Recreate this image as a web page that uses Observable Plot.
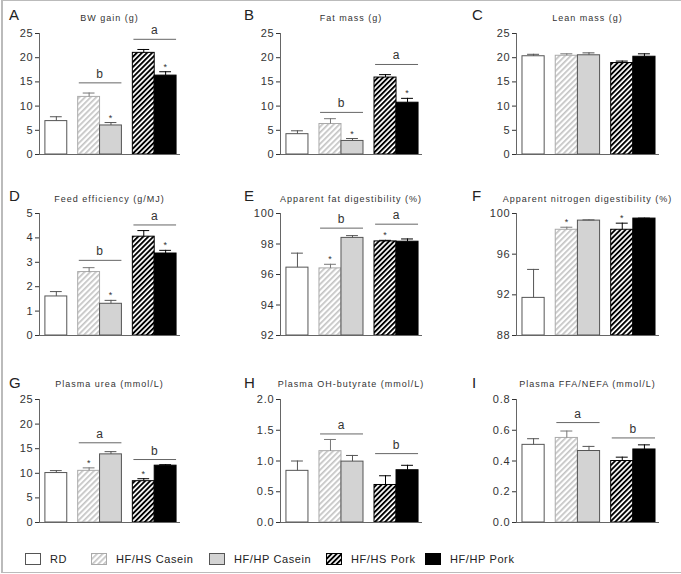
<!DOCTYPE html>
<html><head><meta charset="utf-8">
<script src="https://cdn.jsdelivr.net/npm/d3@7"></script>
<script src="https://cdn.jsdelivr.net/npm/@observablehq/plot@0.6"></script>
<style>
html,body{margin:0;padding:0;background:#fff;}
#fig{position:relative;width:681px;height:574px;font-family:"Liberation Sans",Arial,sans-serif;overflow:hidden;background:#fff;}
#frame{position:absolute;left:1px;top:0;width:678px;height:571px;border:1px solid #bbb;border-left:2px solid #bbb;pointer-events:none;}
.panel{position:absolute;}
.letter{position:absolute;font-size:15px;line-height:15px;color:#222;}
.title{position:absolute;font-size:9px;line-height:10px;letter-spacing:1px;color:#333;transform:translateX(-50%);white-space:nowrap;}
.item{position:absolute;top:553px;display:flex;align-items:center;font-size:11px;letter-spacing:0.6px;color:#222;white-space:nowrap;}
.item svg{margin-right:9px;}
</style></head>
<body>
<svg width="0" height="0" style="position:absolute">
  <defs>
    <pattern id="hatchLight" patternUnits="userSpaceOnUse" width="4" height="4" patternTransform="rotate(45)">
      <rect width="4" height="4" fill="#fff"/><rect width="1.7" height="4" fill="#c4c4c4"/>
    </pattern>
    <pattern id="hatchDark" patternUnits="userSpaceOnUse" width="3.6" height="3.6" patternTransform="rotate(45)">
      <rect width="3.6" height="3.6" fill="#fff"/><rect width="1.9" height="3.6" fill="#000"/>
    </pattern>
  </defs>
</svg>
<div id="fig"><div id="frame"></div></div>
<script>
// ---- data ----
const categories = ["RD", "HF/HS Casein", "HF/HP Casein", "HF/HS Pork", "HF/HP Pork"];
const categoryGroup = [0, 1, 1, 2, 2];
const panelLetters = ["A", "B", "C", "D", "E", "F", "G", "H", "I"];
const panelTitles = ["BW gain (g)", "Fat mass (g)", "Lean mass (g)", "Feed efficiency (g/MJ)",
  "Apparent fat digestibility (%)", "Apparent nitrogen digestibility (%)",
  "Plasma urea (mmol/L)", "Plasma OH-butyrate (mmol/L)", "Plasma FFA/NEFA (mmol/L)"];
const yTicks = [
  [0, 5, 10, 15, 20, 25], [0, 5, 10, 15, 20, 25], [0, 5, 10, 15, 20, 25],
  [0, 1, 2, 3, 4, 5], [92, 94, 96, 98, 100], [88, 92, 96, 100],
  [0, 5, 10, 15, 20, 25], [0, 0.5, 1, 1.5, 2], [0, 0.2, 0.4, 0.6, 0.8]];
const tickDecimals = [0, 0, 0, 0, 0, 0, 0, 1, 1];
const means = [
  [6.9, 11.9, 6.0, 21.0, 16.3],
  [4.2, 6.3, 2.8, 15.9, 10.7],
  [20.3, 20.4, 20.5, 18.9, 20.2],
  [1.6, 2.6, 1.3, 4.05, 3.36],
  [96.45, 96.4, 98.4, 98.17, 98.15],
  [91.7, 98.4, 99.3, 98.4, 99.5],
  [10.05, 10.5, 13.85, 8.4, 11.55],
  [0.84, 1.16, 0.99, 0.61, 0.85],
  [0.505, 0.55, 0.465, 0.40, 0.475]];
const sem = [
  [0.9, 0.8, 0.6, 0.7, 0.8],
  [0.7, 1.1, 0.5, 0.6, 0.9],
  [0.4, 0.4, 0.5, 0.4, 0.6],
  [0.2, 0.18, 0.14, 0.25, 0.13],
  [0.95, 0.27, 0.15, 0.07, 0.18],
  [2.8, 0.25, 0.07, 0.65, 0.04],
  [0.5, 0.6, 0.55, 0.5, 0.2],
  [0.16, 0.19, 0.1, 0.15, 0.08],
  [0.04, 0.045, 0.03, 0.025, 0.03]];
const starred = [[2, 4], [2, 4], [], [2, 4], [1, 3], [1, 3], [1, 3], [], []];
const sigLetters = [["b", "a"], ["b", "a"], [], ["b", "a"], ["b", "a"], [], ["a", "b"], ["a", "b"], ["a", "b"]];
const sigLevels = [[14.8, 23.8], [8.7, 18.6], [], [3.08, 4.53], [99.04, 99.3], [], [16.2, 12.8], [1.44, 1.12], [0.65, 0.55]];

// ---- styles / layout ----
const fills = ["#fff", "url(#hatchLight)", "#d3d3d3", "url(#hatchDark)", "#000"];
const strokes = ["#555", "#aaa", "#555", "#000", "#000"];
const errStrokes = ["#555", "#777", "#555", "#000", "#000"];
const colLeft = [0, 225, 450], colAxisX = [39, 280, 516], colAxisEnd = [180, 422, 659];
const rowTop = [0, 180, 360], rowTickTop = [33, 213, 399], rowBase = [154, 335, 522];
const letterX = [9, 244, 472], letterTop = [7, 188, 375], titleTop = [13, 194, 379];
const legendX = [25, 91, 209, 326, 425];
const PW = 225, PH = 180;
const xDomain = [-0.77, 5.68];

const fig = document.getElementById("fig");
const center = i => i + 0.5 * categoryGroup[i];

panelLetters.forEach((L, p) => {
  const r = Math.floor(p / 3), c = p % 3;
  const ticks = yTicks[p];
  const y0 = ticks[0], y1 = ticks[ticks.length - 1];
  const rows = categories.map((cat, i) => ({
    cat, i, c: center(i), m: means[p][i], e: means[p][i] + sem[p][i],
    fill: fills[i], stroke: strokes[i], es: errStrokes[i]
  }));
  const stars = rows.filter(d => starred[p].includes(d.i));
  const sig = sigLetters[p].map((t, g) => {
    const members = rows.filter(d => categoryGroup[d.i] === g + 1);
    return {t, y: sigLevels[p][g], xa: members[0].c - 0.45, xb: members[members.length - 1].c + 0.5,
      xm: (members[0].c + members[members.length - 1].c) / 2};
  });
  const plot = Plot.plot({
    width: PW, height: PH,
    marginLeft: colAxisX[c] - colLeft[c],
    marginRight: colLeft[c] + PW - colAxisEnd[c],
    marginTop: rowTickTop[r] - rowTop[r],
    marginBottom: rowTop[r] + PH - rowBase[r],
    x: {domain: xDomain, axis: null},
    y: {domain: [y0, y1], ticks, tickSize: 4, tickPadding: 2, label: null,
        tickFormat: d => d.toFixed(tickDecimals[p])},
    color: {type: "identity"},
    style: {fontFamily: "Liberation Sans, Arial, sans-serif", fontSize: "11px", letterSpacing: "0.8px", color: "#333", background: "transparent", overflow: "visible"},
    marks: [
      Plot.rect(rows, {x1: d => d.c - 0.5, x2: d => d.c + 0.5, y1: y0, y2: "m", fill: "fill", stroke: "stroke", strokeWidth: 1}),
      Plot.ruleX(rows, {x: "c", y1: "m", y2: "e", stroke: "es", strokeWidth: 1}),
      Plot.ruleY(rows, {y: "e", x1: d => d.c - 0.27, x2: d => d.c + 0.27, stroke: "es", strokeWidth: 1}),
      Plot.ruleX([xDomain[0]], {y1: y0, y2: y1, stroke: "#666"}),
      Plot.ruleY([y0], {x1: xDomain[0], x2: xDomain[1], stroke: "#666"}),
      Plot.ruleY(sig, {y: "y", x1: "xa", x2: "xb", stroke: "#666", strokeWidth: 1}),
      Plot.text(sig, {x: "xm", y: "y", text: "t", dy: -5, lineAnchor: "bottom", fontSize: 12, fill: "#333"}),
      Plot.text(stars, {x: "c", y: "e", text: () => "*", dy: -2, lineAnchor: "bottom", fontSize: 9, fill: "#333"})
    ]
  });
  const div = document.createElement("div");
  div.className = "panel";
  div.style.left = colLeft[c] + "px";
  div.style.top = rowTop[r] + "px";
  div.appendChild(plot);
  fig.appendChild(div);

  const lt = document.createElement("div");
  lt.className = "letter";
  lt.textContent = L;
  lt.style.left = letterX[c] + "px";
  lt.style.top = letterTop[r] + "px";
  fig.appendChild(lt);

  const tt = document.createElement("div");
  tt.className = "title";
  tt.textContent = panelTitles[p];
  tt.style.left = ((colAxisX[c] + colAxisEnd[c]) / 2) + "px";
  tt.style.top = titleTop[r] + "px";
  fig.appendChild(tt);
});

// legend
categories.forEach((cat, i) => {
  const item = document.createElement("div");
  item.className = "item";
  item.style.left = legendX[i] + "px";
  item.innerHTML = `<svg width="16" height="12"><rect x="0.5" y="0.5" width="15" height="11" fill="${fills[i]}" stroke="${strokes[i]}"/></svg><span>${cat}</span>`;
  fig.appendChild(item);
});
</script>
</body></html>
